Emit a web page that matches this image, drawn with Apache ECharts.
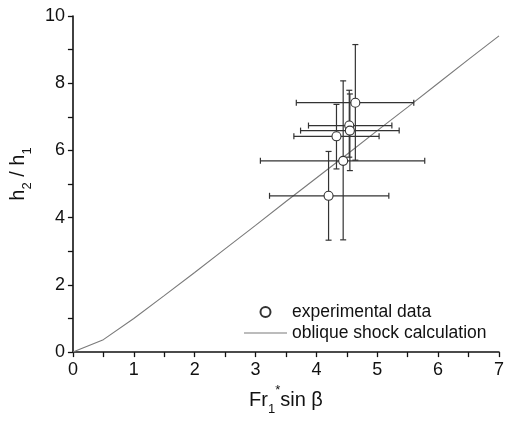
<!DOCTYPE html>
<html>
<head>
<meta charset="utf-8">
<script src="https://cdn.jsdelivr.net/npm/echarts@6/dist/echarts.min.js"></script>
<style>
  html, body { margin: 0; padding: 0; background: #fff; }
  #chart { width: 507px; height: 421px; }
</style>
</head>
<body>
<div id="chart"></div>
<script>
// oblique shock calculation curve
var curveX = [0, 0.5, 1, 1.5, 2, 2.5, 3, 3.5, 4, 4.5, 5, 5.5, 6, 6.5, 7];
var curveY = [0, 0.37, 1.0, 1.68, 2.37, 3.07, 3.77, 4.48, 5.18, 5.88, 6.59, 7.29, 8.0, 8.71, 9.41];

// experimental data with error bars
var expX    = [4.64, 4.54, 4.55, 4.33, 4.44, 4.20];
var expY    = [7.42, 6.74, 6.59, 6.42, 5.69, 4.65];
var expXLow = [3.67, 3.87, 3.74, 3.63, 3.08, 3.23];
var expXHigh= [5.60, 5.24, 5.36, 5.03, 5.78, 5.19];
var expYLow = [5.71, 5.80, 5.40, 5.45, 3.34, 3.33];
var expYHigh= [9.15, 7.79, 7.68, 7.37, 8.07, 5.97];

var font = 'Liberation Sans, Arial, sans-serif';
var ink = '#111';

var chart = echarts.init(document.getElementById('chart'));

var errData = expX.map(function (x, i) {
    return [x, expY[i], expXLow[i], expXHigh[i], expYLow[i], expYHigh[i]];
});

function renderErr(params, api) {
    var c = api.coord([api.value(0), api.value(1)]);
    var l = api.coord([api.value(2), api.value(1)]);
    var r = api.coord([api.value(3), api.value(1)]);
    var b = api.coord([api.value(0), api.value(4)]);
    var t = api.coord([api.value(0), api.value(5)]);
    var cap = 3;
    var st = { stroke: '#333', lineWidth: 1.2 };
    var seg = function (x1, y1, x2, y2) {
        return { type: 'line', shape: { x1: x1, y1: y1, x2: x2, y2: y2 }, style: st };
    };
    return {
        type: 'group',
        children: [
            seg(l[0], c[1], r[0], c[1]),
            seg(l[0], c[1] - cap, l[0], c[1] + cap),
            seg(r[0], c[1] - cap, r[0], c[1] + cap),
            seg(c[0], b[1], c[0], t[1]),
            seg(c[0] - cap, b[1], c[0] + cap, b[1]),
            seg(c[0] - cap, t[1], c[0] + cap, t[1])
        ]
    };
}

var nameRich = {
    n: { fontSize: 20, fontFamily: font, color: ink, lineHeight: 26 },
    sub: { fontSize: 13, fontFamily: font, color: ink, verticalAlign: 'bottom', lineHeight: 26, padding: [0, 0, -3, 0] },
    sup: { fontSize: 13, fontFamily: font, color: ink, verticalAlign: 'top', lineHeight: 26, padding: [-3, 0, 0, 0] }
};

chart.setOption({
    animation: false,
    backgroundColor: '#fff',
    textStyle: { fontFamily: font },
    grid: { left: 61, right: 4, top: 16, bottom: 63 },
    legend: {
        left: 239,
        top: 298,
        orient: 'vertical',
        itemWidth: 43,
        itemHeight: 10,
        itemGap: 3,
        textStyle: { fontFamily: font, fontSize: 17.5, color: ink },
        data: [
            { name: 'experimental data', icon: 'circle' },
            { name: 'oblique shock calculation', icon: 'path://M0,0H43V1H0Z',
              itemStyle: { color: '#7a7a7a', borderWidth: 0 } }
        ]
    },
    xAxis: {
        type: 'value',
        min: 0, max: 7, interval: 1,
        name: '{n|Fr}{sub|1}{sup|*}{n|sin β}',
        nameLocation: 'middle',
        nameGap: 32,
        nameTextStyle: { rich: nameRich },
        axisLine: { lineStyle: { color: ink, width: 1.6 } },
        axisTick: { inside: false, length: 5, lineStyle: { color: ink, width: 1.3 } },
        minorTick: { show: true, splitNumber: 2, length: 5, lineStyle: { color: ink, width: 1.3 } },
        axisLabel: { fontSize: 18, color: ink, margin: 9, fontFamily: font },
        splitLine: { show: false }
    },
    yAxis: {
        type: 'value',
        min: 0, max: 10, interval: 2,
        name: '{n|h}{sub|2}{n| / h}{sub|1}',
        nameLocation: 'middle',
        nameRotate: 90,
        nameGap: 22,
        nameTextStyle: { rich: nameRich, padding: [0, 0, 0, 20] },
        axisLine: { show: true, lineStyle: { color: ink, width: 1.6 } },
        axisTick: { show: true, inside: false, length: 5, lineStyle: { color: ink, width: 1.3 } },
        minorTick: { show: true, splitNumber: 2, length: 5, lineStyle: { color: ink, width: 1.3 } },
        axisLabel: { fontSize: 18, color: ink, margin: 8, fontFamily: font },
        splitLine: { show: false }
    },
    series: [
        {
            name: 'oblique shock calculation',
            type: 'line',
            data: curveX.map(function (x, i) { return [x, curveY[i]]; }),
            symbol: 'none',
            lineStyle: { color: '#7a7a7a', width: 1.1 },
            itemStyle: { color: '#7a7a7a' },
            z: 2
        },
        {
            name: 'errbars',
            type: 'custom',
            renderItem: renderErr,
            data: errData,
            encode: { x: [0, 2, 3], y: [1, 4, 5] },
            z: 3
        },
        {
            name: 'experimental data',
            type: 'scatter',
            data: expX.map(function (x, i) { return [x, expY[i]]; }),
            symbol: 'circle',
            symbolSize: 9,
            itemStyle: { color: '#fff', borderColor: '#333', borderWidth: 1.1, opacity: 1 },
            z: 4
        }
    ]
});
</script>
</body>
</html>
